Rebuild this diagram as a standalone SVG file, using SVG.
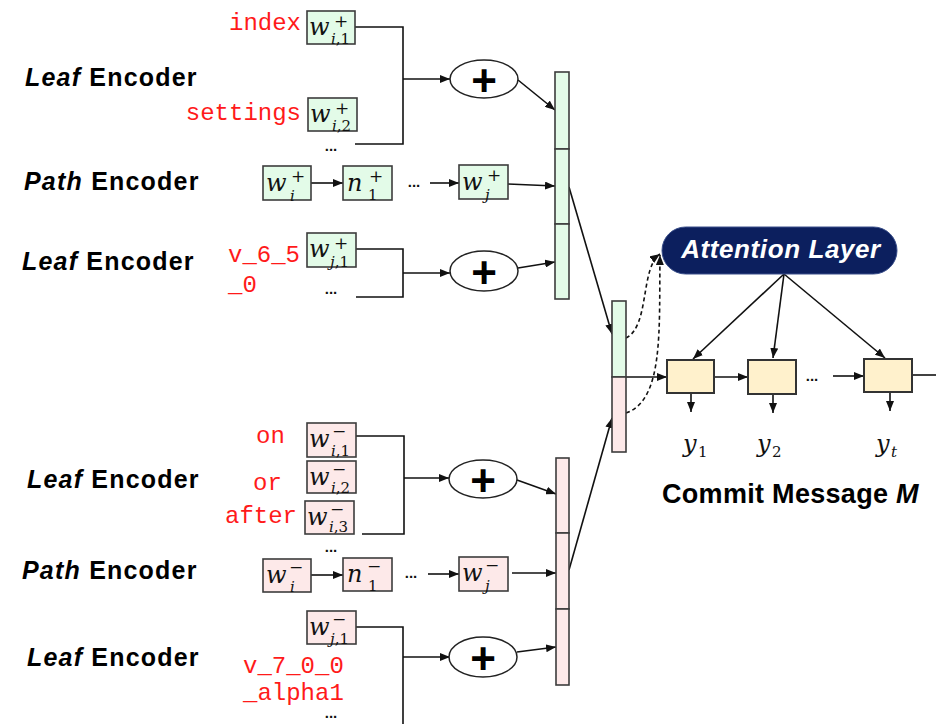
<svg xmlns="http://www.w3.org/2000/svg" width="936" height="724" viewBox="0 0 936 724">
<defs>
<marker id="ah" viewBox="0 0 10 8" refX="10" refY="4" markerWidth="10" markerHeight="8" markerUnits="userSpaceOnUse" orient="auto"><path d="M0,0 L10,4 L0,8 z" fill="#111"/></marker>
<style>
.bg{fill:#e3fbe8;stroke:#3c3c3c;stroke-width:1.6}
.br{fill:#fde9e9;stroke:#3c3c3c;stroke-width:1.6}
.by{fill:#fff1cc;stroke:#333;stroke-width:2}
.ell{fill:#fff;stroke:#222;stroke-width:1.5}
.c{stroke:#111;stroke-width:1.6;fill:none}
.a{marker-end:url(#ah)}
.d{stroke-dasharray:4 3}
.lbl{font-family:"Liberation Sans",Arial,sans-serif;font-weight:bold;font-size:25px;letter-spacing:1.2px;fill:#000}
.red{font-family:"Liberation Mono","Courier New",monospace;font-size:24px;fill:#ff1a1a}
.m{font-family:"DejaVu Serif","Liberation Serif",serif;font-style:italic;font-size:24px;fill:#111}
.sp{font-family:"DejaVu Serif","Liberation Serif",serif;font-size:17px;fill:#111}
.sb{font-family:"DejaVu Serif","Liberation Serif",serif;font-size:15px;fill:#111}
.i{font-style:italic}
.pl{font-family:"Liberation Sans",Arial,sans-serif;font-weight:bold;font-size:44px;fill:#000}
.dots{font-family:"Liberation Sans",Arial,sans-serif;font-weight:bold;font-size:15px;fill:#111}
</style>
</defs>
<rect width="936" height="724" fill="#fff"/>

<g id="labels">
<text class="lbl" x="25" y="86"><tspan font-style="italic">Leaf</tspan> Encoder</text>
<text class="lbl" x="24" y="190"><tspan font-style="italic">Path</tspan> Encoder</text>
<text class="lbl" x="22" y="270"><tspan font-style="italic">Leaf</tspan> Encoder</text>
<text class="lbl" x="27" y="488"><tspan font-style="italic">Leaf</tspan> Encoder</text>
<text class="lbl" x="22" y="579"><tspan font-style="italic">Path</tspan> Encoder</text>
<text class="lbl" x="27" y="666"><tspan font-style="italic">Leaf</tspan> Encoder</text>
</g>

<g id="tokens">
<text class="red" x="301" y="30" text-anchor="end">index</text>
<text class="red" x="301" y="120" text-anchor="end">settings</text>
<text class="red" x="228" y="262">v_6_5</text>
<text class="red" x="228" y="292">_0</text>
<text class="red" x="256" y="443">on</text>
<text class="red" x="253" y="490">or</text>
<text class="red" x="225" y="523">after</text>
<text class="red" x="243" y="673">v_7_0_0</text>
<text class="red" x="243" y="700">_alpha1</text>
</g>

<g id="connectors">
<polyline class="c" points="355,27 403,27 403,144 355,144"/>
<line class="c a" x1="403" y1="79" x2="450" y2="79"/>
<line class="c a" x1="518" y1="80" x2="555" y2="110"/>
<line class="c a" x1="311" y1="183" x2="343" y2="183"/>
<line class="c a" x1="430" y1="183" x2="459" y2="183"/>
<line class="c a" x1="508" y1="184" x2="555" y2="186"/>
<polyline class="c" points="356,249 403,249 403,297 356,297"/>
<line class="c a" x1="403" y1="273" x2="450" y2="273"/>
<line class="c a" x1="518" y1="268" x2="555" y2="262"/>
<line class="c a" x1="569" y1="187" x2="612" y2="334"/>

<polyline class="c" points="356,436 404,436 404,534 362,534"/>
<line class="c a" x1="404" y1="478" x2="449" y2="478"/>
<line class="c a" x1="517" y1="480" x2="556" y2="494"/>
<line class="c a" x1="311" y1="575" x2="343" y2="575"/>
<line class="c a" x1="428" y1="574" x2="459" y2="574"/>
<line class="c a" x1="512" y1="573" x2="556" y2="573"/>
<polyline class="c" points="356,627 403,627 403,724"/>
<line class="c a" x1="403" y1="657" x2="450" y2="657"/>
<line class="c a" x1="517" y1="652" x2="556" y2="647"/>
<line class="c a" x1="569" y1="570" x2="612" y2="418"/>

<line class="c a" x1="612" y1="377" x2="667" y2="377"/>
<line class="c a" x1="714" y1="377" x2="748" y2="377"/>
<line class="c a" x1="833" y1="376" x2="864" y2="376"/>
<line class="c" x1="912" y1="375" x2="936" y2="375"/>
<line class="c a" x1="784" y1="274" x2="693" y2="359"/>
<line class="c a" x1="784" y1="274" x2="773" y2="358"/>
<line class="c a" x1="784" y1="274" x2="885" y2="358"/>
<line class="c a" x1="691" y1="393" x2="691" y2="412"/>
<line class="c a" x1="773" y1="394" x2="773" y2="413"/>
<line class="c a" x1="890" y1="392" x2="890" y2="411"/>
<path class="c d a" d="M626,338 C650,326 640,268 660,254"/>
<path class="c d a" d="M626,413 C664,400 659,330 660,255"/>
</g>

<g id="leaf1">
<rect class="bg" x="307" y="11" width="48" height="33"/>
<text class="m" x="309" y="35">w</text><text class="sp" x="334" y="27">+</text><text class="sb" x="331" y="44"><tspan class="i">i</tspan>,1</text>
<rect class="bg" x="308" y="98" width="49" height="33"/>
<text class="m" x="310" y="122">w</text><text class="sp" x="335" y="114">+</text><text class="sb" x="332" y="131"><tspan class="i">i</tspan>,2</text>
<text class="dots" x="331" y="151" text-anchor="middle">...</text>
<ellipse class="ell" cx="484" cy="79" rx="34" ry="19"/>
<text class="pl" x="484" y="80" text-anchor="middle" dominant-baseline="central">+</text>
</g>

<g id="path1">
<rect class="bg" x="263" y="166" width="48" height="34"/>
<text class="m" x="266" y="191">w</text><text class="sp" x="291" y="182">+</text><text class="sb" x="290" y="201"><tspan class="i">i</tspan></text>
<rect class="bg" x="343" y="166" width="49" height="34"/>
<text class="m" x="347" y="191">n</text><text class="sp" x="369" y="182">+</text><text class="sb" x="368" y="200">1</text>
<text class="dots" x="414" y="187" text-anchor="middle">...</text>
<rect class="bg" x="459" y="165" width="49" height="34"/>
<text class="m" x="462" y="190">w</text><text class="sp" x="487" y="181">+</text><text class="sb" x="485" y="200"><tspan class="i">j</tspan></text>
</g>

<g id="leaf2">
<rect class="bg" x="307" y="233" width="49" height="34"/>
<text class="m" x="309" y="257">w</text><text class="sp" x="334" y="249">+</text><text class="sb" x="330" y="267"><tspan class="i">j</tspan>,1</text>
<text class="dots" x="331" y="294" text-anchor="middle">...</text>
<ellipse class="ell" cx="484" cy="271" rx="34" ry="20"/>
<text class="pl" x="484" y="272" text-anchor="middle" dominant-baseline="central">+</text>
</g>

<g id="column-plus">
<rect class="bg" x="555" y="72" width="14" height="77"/>
<rect class="bg" x="555" y="149" width="14" height="75"/>
<rect class="bg" x="555" y="224" width="14" height="75"/>
</g>

<g id="column-minus">
<rect class="br" x="556" y="458" width="13" height="75"/>
<rect class="br" x="556" y="533" width="13" height="76"/>
<rect class="br" x="556" y="609" width="13" height="76"/>
</g>

<g id="context">
<rect class="bg" x="612" y="301" width="14" height="76"/>
<rect class="br" x="612" y="377" width="14" height="75"/>
</g>

<g id="leaf3">
<rect class="br" x="307" y="423" width="49" height="34"/>
<text class="m" x="309" y="447">w</text><text class="sp" x="332" y="437" font-size="20">−</text><text class="sb" x="331" y="456"><tspan class="i">i</tspan>,1</text>
<rect class="br" x="307" y="461" width="49" height="32"/>
<text class="m" x="309" y="485">w</text><text class="sp" x="332" y="475" font-size="20">−</text><text class="sb" x="331" y="493"><tspan class="i">i</tspan>,2</text>
<rect class="br" x="305" y="501" width="49" height="33"/>
<text class="m" x="307" y="525">w</text><text class="sp" x="330" y="515" font-size="20">−</text><text class="sb" x="329" y="532"><tspan class="i">i</tspan>,3</text>
<text class="dots" x="331" y="552" text-anchor="middle">...</text>
<ellipse class="ell" cx="483" cy="479" rx="34" ry="19"/>
<text class="pl" x="483" y="480" text-anchor="middle" dominant-baseline="central">+</text>
</g>

<g id="path2">
<rect class="br" x="263" y="559" width="48" height="33"/>
<text class="m" x="266" y="583">w</text><text class="sp" x="289" y="573" font-size="20">−</text><text class="sb" x="290" y="592"><tspan class="i">i</tspan></text>
<rect class="br" x="343" y="558" width="49" height="33"/>
<text class="m" x="347" y="582">n</text><text class="sp" x="367" y="572" font-size="20">−</text><text class="sb" x="368" y="591">1</text>
<text class="dots" x="411" y="578" text-anchor="middle">...</text>
<rect class="br" x="459" y="557" width="49" height="34"/>
<text class="m" x="462" y="581">w</text><text class="sp" x="485" y="571" font-size="20">−</text><text class="sb" x="485" y="591"><tspan class="i">j</tspan></text>
</g>

<g id="leaf4">
<rect class="br" x="307" y="611" width="49" height="33"/>
<text class="m" x="309" y="635">w</text><text class="sp" x="332" y="625" font-size="20">−</text><text class="sb" x="330" y="644"><tspan class="i">j</tspan>,1</text>
<text class="dots" x="331" y="718" text-anchor="middle">...</text>
<ellipse class="ell" cx="483" cy="657" rx="34" ry="20"/>
<text class="pl" x="483" y="658" text-anchor="middle" dominant-baseline="central">+</text>
</g>

<g id="attention">
<rect x="662" y="227" width="235" height="47" rx="23.5" fill="#0c1f5e" stroke="#3a4f8a" stroke-width="1"/>
<text x="781" y="258" text-anchor="middle" font-family="'Liberation Sans',Arial,sans-serif" font-weight="bold" font-style="italic" font-size="26" letter-spacing="0.6" fill="#fff">Attention Layer</text>
</g>

<g id="decoder">
<rect class="by" x="667" y="360" width="47" height="33"/>
<rect class="by" x="748" y="360" width="48" height="34"/>
<text class="dots" x="812" y="381" text-anchor="middle">...</text>
<rect class="by" x="864" y="359" width="48" height="33"/>
<text class="m" x="683" y="452">y</text><text class="sb" x="698" y="457" font-size="16">1</text>
<text class="m" x="757" y="452">y</text><text class="sb" x="772" y="457" font-size="16">2</text>
<text class="m" x="876" y="452">y</text><text class="sb i" x="891" y="457" font-size="16">t</text>
<text x="662" y="503" font-family="'Liberation Sans',Arial,sans-serif" font-weight="bold" font-size="27" letter-spacing="0.3" fill="#000">Commit Message <tspan font-style="italic">M</tspan></text>
</g>
</svg>
